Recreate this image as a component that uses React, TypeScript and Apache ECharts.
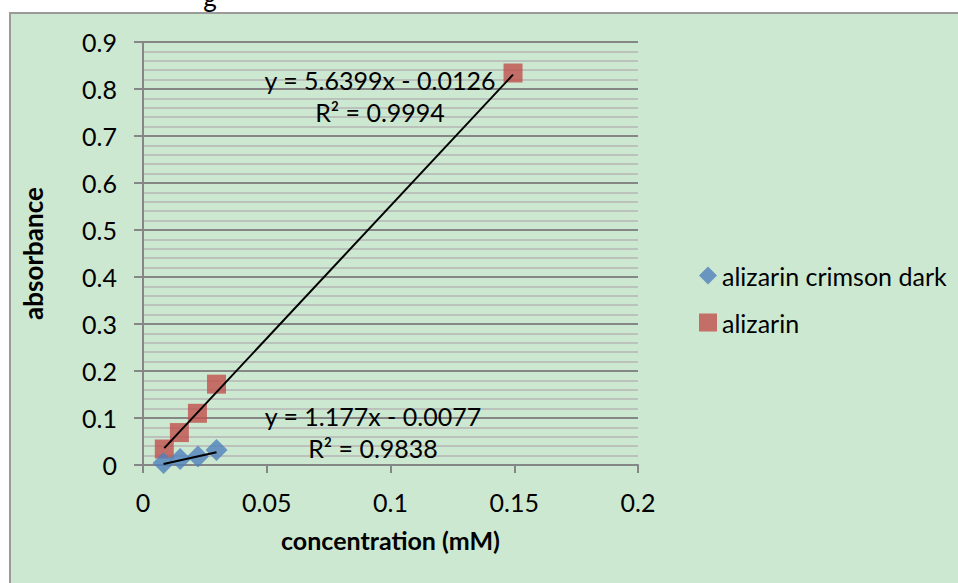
import React, { useEffect, useRef } from "react";
import * as echarts from "echarts";

// Calibration measurements: concentration (mM) against absorbance
const concCrimsonDark = [0.0083, 0.015, 0.0222, 0.0297];
const absCrimsonDark = [0.004, 0.013, 0.018, 0.032];

const concAlizarin = [0.0086, 0.0147, 0.022, 0.0297, 0.1495];
const absAlizarin = [0.034, 0.069, 0.11, 0.172, 0.834];

// Linear fits reported for each series
const fitCrimsonDark = { slope: 1.177, intercept: -0.0077, r2: 0.9838 };
const fitAlizarin = { slope: 5.6399, intercept: -0.0126, r2: 0.9994 };

const seriesNames = ["alizarin crimson dark", "alizarin"];
const xTicks = [0, 0.05, 0.1, 0.15, 0.2];
const yTicks = [0, 0.1, 0.2, 0.3, 0.4, 0.5, 0.6, 0.7, 0.8, 0.9];

const FONT = "Lato, 'Open Sans', sans-serif";
const BLUE = "#4f81bd";
const RED = "#c0504d";
const GRID_DARK = "#868686";
const GRID_LIGHT = "#b5b5b5";

const zip = (xs: number[], ys: number[]) => xs.map((x, i) => [x, ys[i]]);

const fitLine = (xs: number[], fit: { slope: number; intercept: number }) => {
  const lo = Math.min(...xs);
  const hi = Math.max(...xs);
  return [
    [lo, fit.slope * lo + fit.intercept],
    [hi, fit.slope * hi + fit.intercept],
  ];
};

const equation = (fit: { slope: number; intercept: number }) =>
  `y = ${fit.slope}x ${fit.intercept < 0 ? "-" : "+"} ${Math.abs(fit.intercept).toFixed(4)}`;

const fmt = (v: number) => String(Number(v.toFixed(2)));

export default function App() {
  const ref = useRef<HTMLDivElement>(null);

  useEffect(() => {
    if (!ref.current) return;
    const chart = echarts.init(ref.current, undefined, { renderer: "svg" });

    const eqText = (text: string, x: number, y: number) => ({
      type: "text",
      x,
      y,
      z: 10,
      style: {
        text,
        fill: "#000",
        fontSize: 25,
        fontFamily: FONT,
        align: "center",
        verticalAlign: "middle",
      },
    });

    chart.setOption({
      animation: false,
      backgroundColor: "#cde8d0",
      textStyle: { fontFamily: FONT },
      grid: { left: 143, top: 42, width: 495, height: 423 },
      xAxis: {
        type: "value",
        min: xTicks[0],
        max: xTicks[xTicks.length - 1],
        interval: 0.05,
        name: "concentration (mM)",
        nameLocation: "middle",
        nameGap: 62,
        nameTextStyle: { color: "#000", fontSize: 25, fontWeight: "bold", fontFamily: FONT },
        axisLine: { show: true, onZero: false, lineStyle: { color: GRID_DARK, width: 2 } },
        axisTick: { show: true, length: 8, lineStyle: { color: GRID_DARK, width: 2 } },
        splitLine: { show: false },
        axisLabel: { color: "#000", fontSize: 25, margin: 24, formatter: (v: number) => fmt(v) },
      },
      yAxis: {
        type: "value",
        min: yTicks[0],
        max: yTicks[yTicks.length - 1],
        interval: 0.1,
        name: "absorbance",
        nameLocation: "middle",
        nameGap: 97,
        nameRotate: 90,
        nameTextStyle: { color: "#000", fontSize: 26, fontWeight: "bold", fontFamily: FONT },
        axisLine: { show: true, onZero: false, lineStyle: { color: GRID_DARK, width: 2 } },
        axisTick: { show: true, length: 9, lineStyle: { color: GRID_DARK, width: 2 } },
        splitLine: { show: true, lineStyle: { color: GRID_DARK, width: 2 } },
        minorTick: { show: false, splitNumber: 5 },
        minorSplitLine: { show: true, lineStyle: { color: GRID_LIGHT, width: 1.5 } },
        axisLabel: { color: "#000", fontSize: 25, margin: 26, formatter: (v: number) => fmt(v) },
      },
      legend: {
        orient: "vertical",
        left: 694,
        top: 258,
        itemWidth: 18,
        itemHeight: 18,
        itemGap: 22,
        textStyle: { color: "#000", fontSize: 25, fontFamily: FONT },
        data: [
          { name: seriesNames[0], icon: "diamond" },
          { name: seriesNames[1], icon: "rect" },
        ],
      },
      series: [
        {
          name: seriesNames[0],
          type: "scatter",
          symbol: "diamond",
          symbolSize: 22,
          itemStyle: { color: BLUE },
          data: zip(concCrimsonDark, absCrimsonDark),
          z: 3,
        },
        {
          name: seriesNames[1],
          type: "scatter",
          symbol: "rect",
          symbolSize: 19,
          itemStyle: { color: RED },
          data: zip(concAlizarin, absAlizarin),
          z: 2,
        },
        {
          name: "fit crimson dark",
          type: "line",
          symbol: "none",
          silent: true,
          lineStyle: { color: "#000", width: 2 },
          data: fitLine(concCrimsonDark, fitCrimsonDark),
          z: 5,
        },
        {
          name: "fit alizarin",
          type: "line",
          symbol: "none",
          silent: true,
          lineStyle: { color: "#000", width: 2 },
          data: fitLine(concAlizarin, fitAlizarin),
          z: 5,
        },
      ],
      graphic: [
        // page margin around the chart frame
        { type: "rect", shape: { x: 0, y: 0, width: 958, height: 12 }, style: { fill: "#fff" } },
        { type: "rect", shape: { x: 0, y: 0, width: 9, height: 583 }, style: { fill: "#fff" } },
        {
          type: "polyline",
          shape: { points: [[10, 583], [10, 13], [958, 13]] },
          style: { stroke: "#9a9a9a", lineWidth: 2, fill: "none" },
        },
        {
          type: "text",
          x: 210,
          y: 10,
          style: {
            text: "g",
            fill: "#000",
            fontSize: 26,
            fontFamily: FONT,
            align: "center",
            verticalAlign: "bottom",
          },
        },
        eqText(equation(fitAlizarin), 380, 80),
        eqText(`R² = ${fitAlizarin.r2}`, 380, 112),
        eqText(equation(fitCrimsonDark), 373, 416),
        eqText(`R² = ${fitCrimsonDark.r2}`, 373, 448),
      ],
    });

    return () => chart.dispose();
  }, []);

  return (
    <div
      ref={ref}
      style={{ position: "fixed", left: 0, top: 0, width: 958, height: 583 }}
    />
  );
}
